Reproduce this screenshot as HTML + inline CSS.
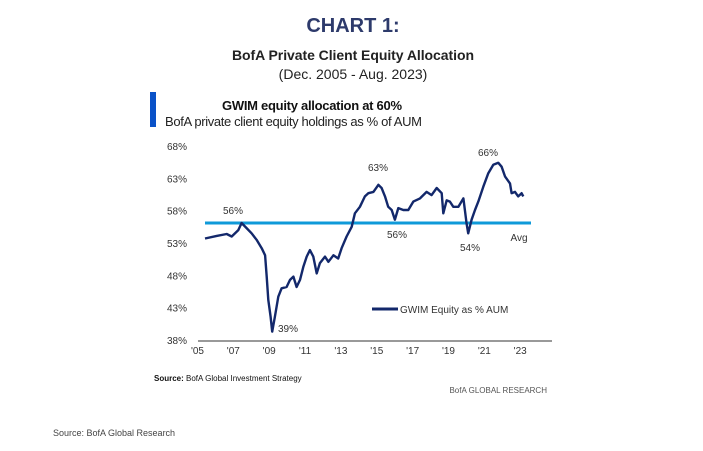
<!DOCTYPE html>
<html><head><meta charset="utf-8"><style>
body{margin:0;background:#fff;}
svg{display:block;font-family:"Liberation Sans",sans-serif;}
</style></head><body>
<svg id="c" width="703" height="451">
<text x="353" y="32" text-anchor="middle" font-size="20" font-weight="bold" fill="#2d3a6b">CHART 1:</text>
<text x="353" y="60" text-anchor="middle" font-size="14" font-weight="bold" fill="#222" textLength="242">BofA Private Client Equity Allocation</text>
<text x="353" y="79" text-anchor="middle" font-size="14" fill="#222">(Dec. 2005 - Aug. 2023)</text>
<rect x="150" y="92" width="6" height="35" fill="#0a52c8"/>
<text x="222" y="110" font-size="13" font-weight="bold" fill="#111" textLength="180">GWIM equity allocation at 60%</text>
<text x="165" y="126" font-size="13" fill="#222" textLength="257">BofA private client equity holdings as % of AUM</text>
<g id="yax"></g><g id="xax"></g>
<line x1="198" y1="341" x2="552" y2="341" stroke="#333" stroke-width="1"/>
<g id="avg"></g><g id="series"></g>
<g font-size="10" fill="#333">
<text x="233" y="214" text-anchor="middle">56%</text>
<text x="288" y="332" text-anchor="middle">39%</text>
<text x="378" y="171" text-anchor="middle">63%</text>
<text x="397" y="238" text-anchor="middle">56%</text>
<text x="470" y="251" text-anchor="middle">54%</text>
<text x="488" y="156" text-anchor="middle">66%</text>
<text x="519" y="241" text-anchor="middle">Avg</text>
</g>
<line x1="372" y1="309" x2="398" y2="309" stroke="#13286b" stroke-width="3"/>
<text x="400" y="313" font-size="10" fill="#333">GWIM Equity as % AUM</text>
<text x="154" y="381" font-size="8" fill="#111"><tspan font-weight="bold">Source:</tspan>  BofA Global Investment Strategy</text>
<text x="547" y="393" text-anchor="end" font-size="8" fill="#555">BofA GLOBAL RESEARCH</text>
<text x="53" y="436" font-size="9" fill="#444">Source: BofA Global Research</text>
</svg>
<script>
const dates=[2005.92,2006.57,2007.13,2007.41,2007.78,2007.96,2008.24,2008.52,2008.80,2009.08,2009.27,2009.36,2009.45,2009.58,2009.67,2009.82,2010.01,2010.19,2010.47,2010.66,2010.85,2011.03,2011.22,2011.40,2011.59,2011.77,2011.96,2012.15,2012.33,2012.61,2012.80,2013.08,2013.35,2013.54,2013.82,2014.10,2014.28,2014.56,2014.84,2015.03,2015.31,2015.59,2015.77,2015.96,2016.14,2016.33,2016.51,2016.70,2016.98,2017.26,2017.54,2017.91,2018.28,2018.56,2018.84,2019.12,2019.21,2019.40,2019.58,2019.77,2020.05,2020.33,2020.51,2020.60,2020.79,2020.98,2021.16,2021.44,2021.72,2022.00,2022.28,2022.46,2022.65,2022.93,2023.02,2023.21,2023.39,2023.58,2023.67];
const values=[53.7,54.1,54.4,54.0,55.0,56.1,55.3,54.5,53.5,52.2,51.1,47.8,44.2,41.6,39.3,41.6,44.7,46.0,46.2,47.3,47.8,46.2,47.3,49.3,50.9,51.9,50.9,48.3,49.9,50.9,50.1,51.1,50.6,52.2,54.0,55.5,57.6,58.6,60.2,60.7,60.9,62.0,61.5,60.2,58.6,58.1,56.6,58.4,58.1,58.1,59.4,59.9,60.9,60.4,61.5,60.7,57.6,59.6,59.4,58.6,58.6,59.9,56.0,54.5,56.6,58.1,59.4,61.7,63.8,65.1,65.4,64.8,63.3,62.2,60.7,60.9,60.2,60.7,60.2];
const average=[56.1];
const yTicks=[68,63,58,53,48,43,38];
const yTickLabels=["68%","63%","58%","53%","48%","43%","38%"];
const xTicks=[2005,2007,2009,2011,2013,2015,2017,2019,2021,2023];
const xTickLabels=["'05","'07","'09","'11","'13","'15","'17","'19","'21","'23"];
const NS="http://www.w3.org/2000/svg";
function X(t){return 205+(t-2005.92)*17.93;}
function Y(v){return 146+(68-v)*6.467;}
function mk(tag,attrs,parent,txt){const e=document.createElementNS(NS,tag);for(const k in attrs)e.setAttribute(k,attrs[k]);if(txt)e.textContent=txt;parent.appendChild(e);return e;}
const yg=document.getElementById('yax');
yTicks.forEach((v,i)=>{
  const t=mk('text',{x:187,y:Y(v)+4,'text-anchor':'end','font-size':10,fill:'#333'},yg,yTickLabels[i]);
  
  
});
const xg=document.getElementById('xax');
xTicks.forEach((yr,i)=>{
  const t=mk('text',{x:X(yr+0.5),y:354,'text-anchor':'middle','font-size':10,fill:'#333'},xg,xTickLabels[i]);
  
  
});
const a=mk('line',{x1:205,x2:531,y1:Y(average[0]),y2:Y(average[0]),stroke:'#0f9ad9','stroke-width':3},document.getElementById('avg'));


const d=dates.map((t,i)=>(i?'L':'M')+X(t).toFixed(1)+' '+Y(values[i]).toFixed(1)).join(' ');
const p=mk('path',{d:d,fill:'none',stroke:'#13286b','stroke-width':2.4,'stroke-linejoin':'round'},document.getElementById('series'));


</script>
</body></html>
